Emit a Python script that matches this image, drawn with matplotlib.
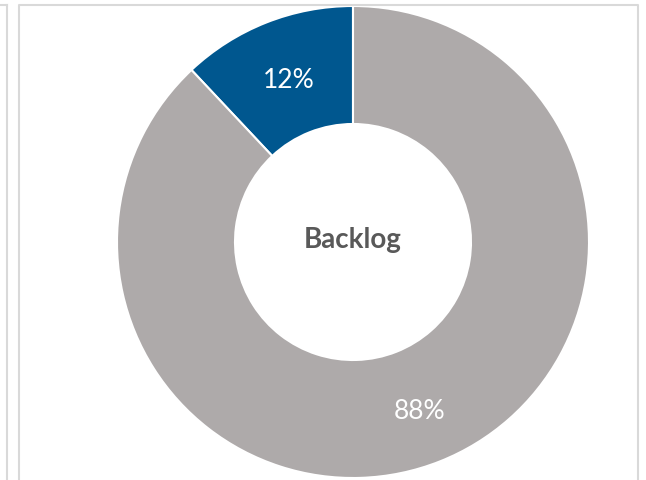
import matplotlib.pyplot as plt

########## Data
labels = ["Backlog", "Other"]
shares = [12, 88]
colors = ["#00578F", "#AEAAAA"]
center_label = "Backlog"

########## Figure in pixel units (y measured from the bottom)
W, H = 646, 481
fig = plt.figure(figsize=(W / 100, H / 100), dpi=100)
ax = fig.add_axes([0, 0, 1, 1])

cx, cy = 353, H - 243
radius = 236

wedges, texts, autotexts = ax.pie(
    shares,
    colors=colors,
    startangle=90,
    counterclock=True,
    center=(cx, cy),
    radius=radius,
    autopct="%d%%",
    pctdistance=0.755,
    wedgeprops=dict(width=radius * 0.5, edgecolor="white", linewidth=1.5),
    textprops=dict(color="white", fontsize=19, family="Lato"),
)

# nudge the percentage labels down a few pixels
for t in autotexts:
    x, y = t.get_position()
    t.set_position((x + 1, y - 3))

ax.text(cx, cy + 3, center_label, ha="center", va="center",
        fontsize=20, fontweight="bold", color="#595959", family="Lato")

########## Panel borders
border = "#D9D9D9"
ax.plot([6.5, 6.5], [0, H - 6], color=border, lw=1.5)
ax.plot([0, 6.5], [H - 6, H - 6], color=border, lw=1.5)
ax.plot([18.5, 18.5, 638, 638], [0, H - 6, H - 6, 0], color=border, lw=1.5)

ax.set_xlim(0, W)
ax.set_ylim(0, H)
ax.set_aspect("equal")
ax.axis("off")

plt.savefig("out.png", dpi=100)
